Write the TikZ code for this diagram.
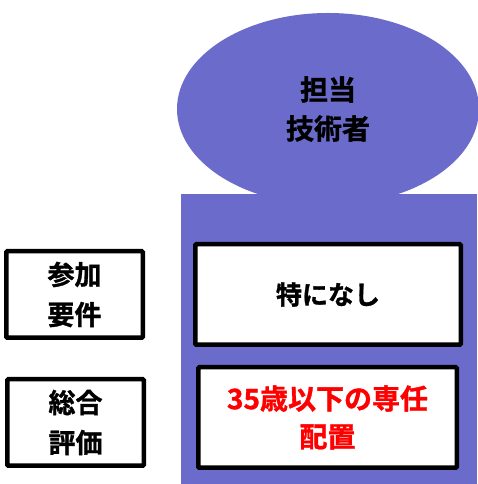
\documentclass[tikz,border=0pt]{standalone}
\usepackage{fontspec}
\setmainfont{Noto Sans CJK JP}[BoldFont={Noto Sans CJK JP Bold}, BoldFeatures={FakeBold=1.2}]
\usetikzlibrary{shapes.geometric}
\definecolor{band}{RGB}{107,107,204}
\definecolor{redtxt}{RGB}{255,0,0}
\tikzset{
  box/.style={draw=black, fill=white, line width=4.5pt, rounded corners=1pt, inner sep=0pt, align=center},
  jpbig/.style={font=\fontsize{27}{40}\selectfont\bfseries},
}
\begin{document}
\begin{tikzpicture}[x=1pt,y=1pt]
\useasboundingbox (0,0) rectangle (477,484);
% purple band and ellipse
\node[ellipse, fill=band, minimum width=302pt, minimum height=192pt, inner sep=0pt,
      align=center, font=\fontsize{28}{39}\selectfont\bfseries] (head) at (328,375) {担当\\技術者};
\fill[band] (181,0) rectangle (477,290);
% left label boxes
\node[box, minimum width=136.5pt, minimum height=86.5pt, jpbig] (req) at (74.5,189.5) {参加\\要件};
\node[box, minimum width=136.5pt, minimum height=86.5pt, jpbig] (eval) at (75.5,61.5) {総合\\評価};
% right content boxes
\node[box, minimum width=265.5pt, minimum height=100.5pt, font=\fontsize{26}{38}\selectfont\bfseries] (none) at (328,189.5) {特になし};
\node[box, minimum width=258.5pt, minimum height=100.5pt, text=redtxt, font=\fontsize{28}{38}\selectfont\bfseries] (cond) at (327.5,66.5) {35歳以下の専任\\配置};
\end{tikzpicture}
\end{document}
